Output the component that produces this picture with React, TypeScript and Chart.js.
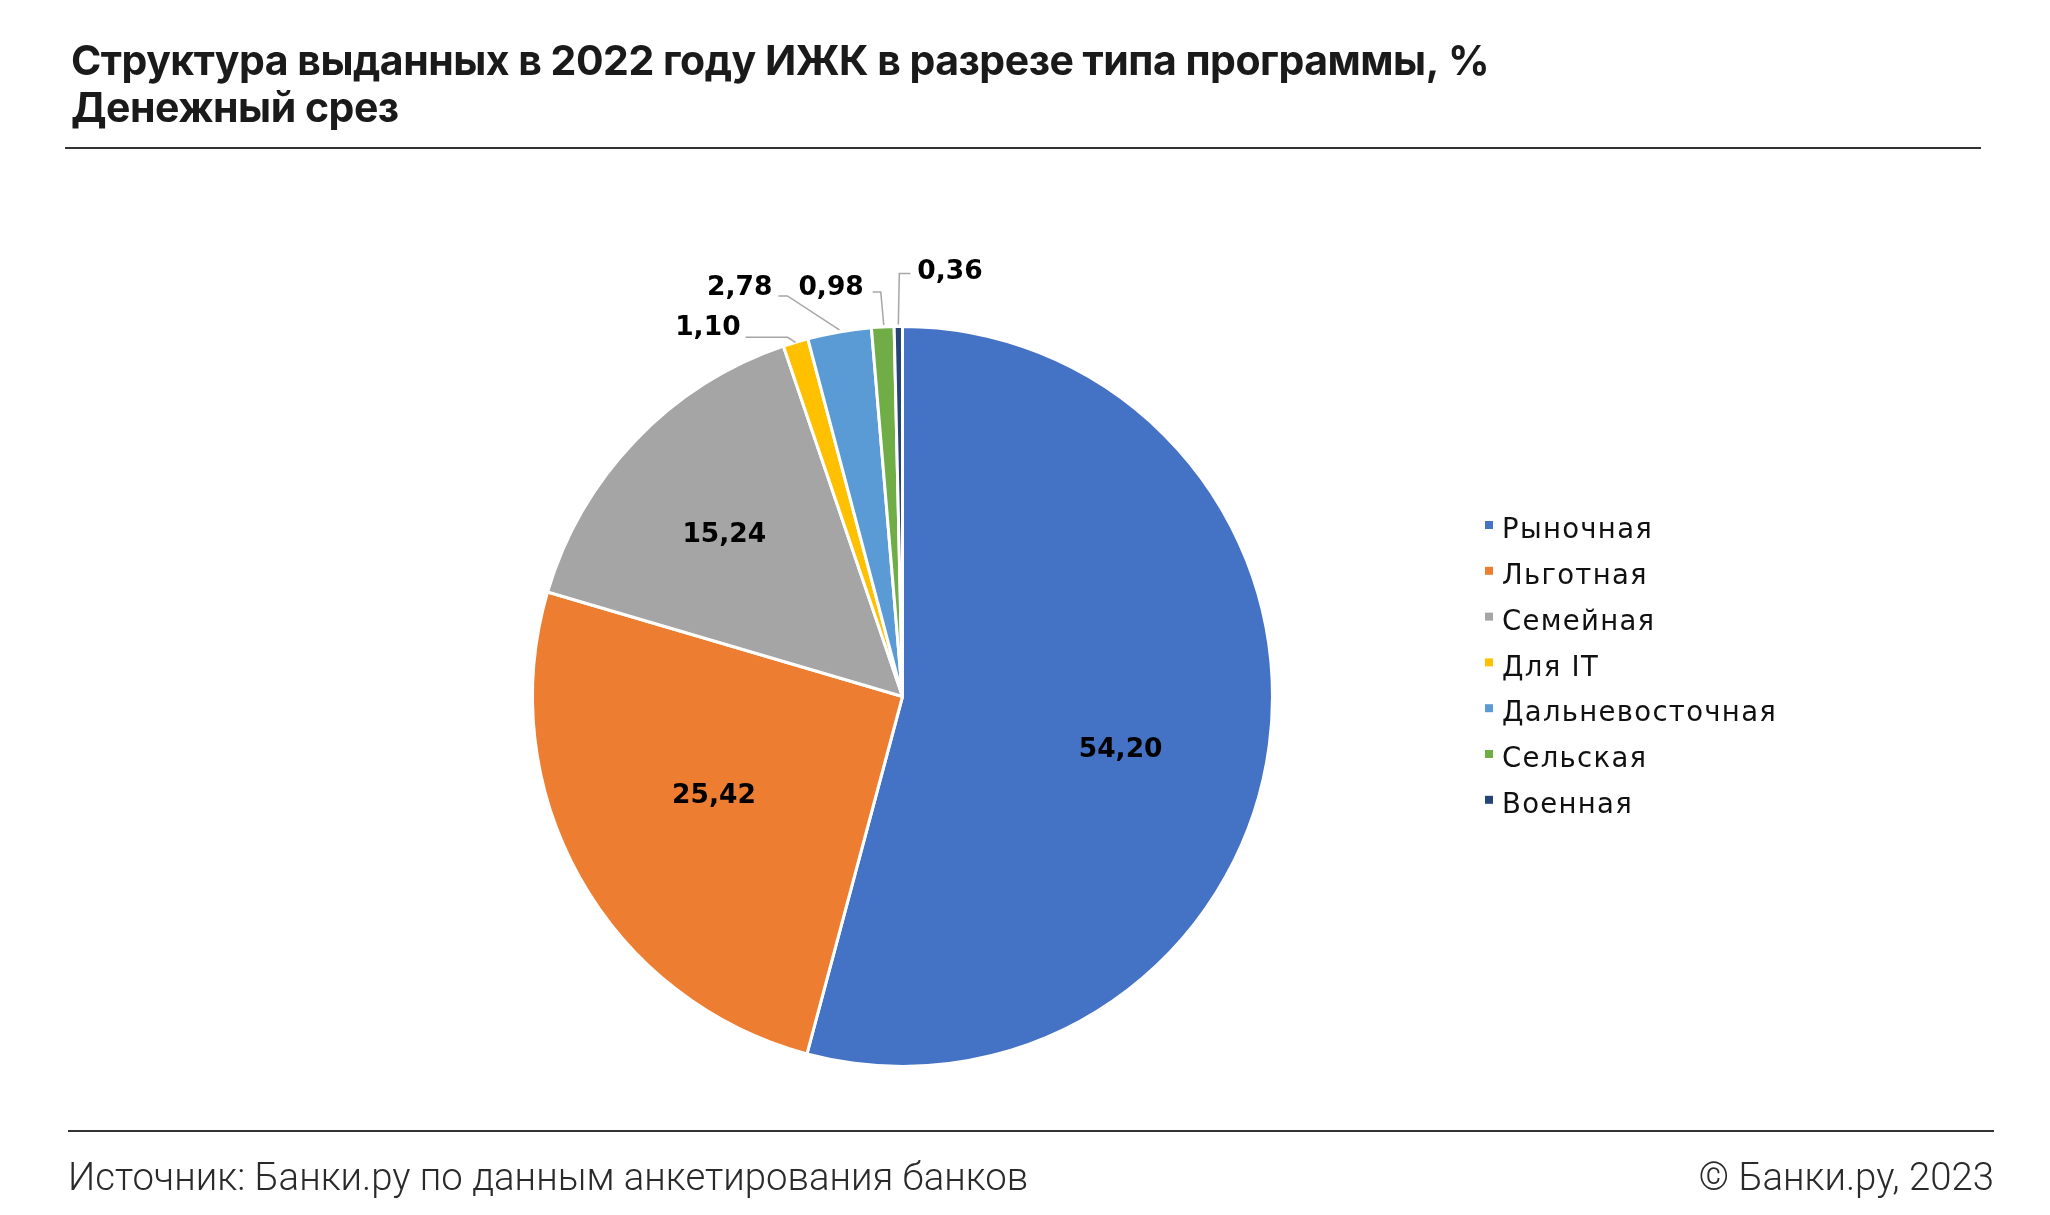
import { useEffect, useRef } from 'react';
import { Chart, registerables } from 'chart.js';

Chart.register(...registerables);

const W = 2050;
const H = 1215;

// ---- data ----
const categories = ['Рыночная', 'Льготная', 'Семейная', 'Для IT', 'Дальневосточная', 'Сельская', 'Военная'];
const shares = [54.2, 25.42, 15.24, 1.1, 2.78, 0.98, 0.36];
const sliceColors = ['#4472C4', '#ED7D31', '#A5A5A5', '#FFC000', '#5B9BD5', '#70AD47', '#264478'];

const titleLines = ['Структура выданных в 2022 году ИЖК в разрезе типа программы, %', 'Денежный срез'];
const sourceText = 'Источник: Банки.ру по данным анкетирования банков';
const copyrightText = '© Банки.ру, 2023';

// ---- label placement styles (relative to slice geometry) ----
type LabelStyle =
  | { kind: 'in'; dx: number; dy: number }
  | { kind: 'out'; align: 'left' | 'right'; tx: number; ty: number; leader: [number, number][] };

const labelStyles: LabelStyle[] = [
  { kind: 'in', dx: -2, dy: 25 },
  { kind: 'in', dx: 5, dy: -9 },
  { kind: 'in', dx: -18, dy: -8 },
  { kind: 'out', align: 'right', tx: -55, ty: -14, leader: [[-50, -5], [-8, -5], [0, 0]] },
  { kind: 'out', align: 'right', tx: -67, ty: -44, leader: [[-61, -36], [-52, -36], [0, -2]] },
  { kind: 'out', align: 'right', tx: -19, ty: -39, leader: [[-10, -35], [-2, -35], [1, -2]] },
  { kind: 'out', align: 'left', tx: 19, ty: -54, leader: [[12, -53], [1, -53], [0, -2]] },
];

const fmt = (v: number) => v.toFixed(2).replace('.', ',');

const decorPlugin = {
  id: 'decor',
  afterDraw(chart: any) {
    const ctx: CanvasRenderingContext2D = chart.ctx;
    ctx.save();
    // title
    ctx.fillStyle = '#1a1a1a';
    ctx.textAlign = 'left';
    ctx.textBaseline = 'alphabetic';
    ctx.font = '700 41px Inter';
    (ctx as any).letterSpacing = '-0.5px';
    ctx.fillText(titleLines[0], 71, 75);
    ctx.fillText(titleLines[1], 71, 122);
    (ctx as any).letterSpacing = '0px';
    // separators
    ctx.strokeStyle = '#333333';
    ctx.lineWidth = 2;
    ctx.beginPath();
    ctx.moveTo(65, 148);
    ctx.lineTo(1981, 148);
    ctx.moveTo(68, 1131);
    ctx.lineTo(1994, 1131);
    ctx.stroke();
    // footer
    ctx.fillStyle = '#2a2a2a';
    ctx.font = '300 38.3px Roboto';
    ctx.textAlign = 'left';
    ctx.fillText(sourceText, 68, 1190);
    ctx.textAlign = 'right';
    ctx.fillText(copyrightText, 1994, 1190);

    // legend
    ctx.textAlign = 'left';
    ctx.textBaseline = 'middle';
    ctx.font = '400 27.5px "DejaVu Sans"';
    (ctx as any).letterSpacing = '1.3px';
    categories.forEach((c, i) => {
      const y = 531 + i * 45.8;
      ctx.fillStyle = sliceColors[i];
      ctx.fillRect(1485, y - 10, 8, 8);
      ctx.fillStyle = '#111111';
      ctx.fillText(c, 1502, y);
    });
    (ctx as any).letterSpacing = '0px';
    ctx.restore();
  },
};

const pieLabelPlugin = {
  id: 'pieLabels',
  afterDatasetsDraw(chart: any) {
    const ctx: CanvasRenderingContext2D = chart.ctx;
    const meta = chart.getDatasetMeta(0);
    ctx.save();
    ctx.font = '700 26.5px "DejaVu Sans"';
    ctx.textBaseline = 'middle';
    meta.data.forEach((arc: any, i: number) => {
      const { x, y, startAngle, endAngle, outerRadius } = arc.getProps(['x', 'y', 'startAngle', 'endAngle', 'outerRadius'], true);
      const mid = (startAngle + endAngle) / 2;
      const st = labelStyles[i];
      const text = fmt(shares[i]);
      if (st.kind === 'in') {
        const r = outerRadius * 0.6;
        ctx.fillStyle = '#000000';
        ctx.textAlign = 'center';
        ctx.fillText(text, x + Math.cos(mid) * r + st.dx, y + Math.sin(mid) * r + st.dy);
      } else {
        const ax = x + Math.cos(mid) * outerRadius;
        const ay = y + Math.sin(mid) * outerRadius;
        ctx.strokeStyle = '#A6A6A6';
        ctx.lineWidth = 1.5;
        ctx.beginPath();
        st.leader.forEach(([dx, dy], k) => {
          if (k === 0) ctx.moveTo(ax + dx, ay + dy);
          else ctx.lineTo(ax + dx, ay + dy);
        });
        ctx.stroke();
        ctx.fillStyle = '#000000';
        ctx.textAlign = st.align;
        ctx.fillText(text, ax + st.tx, ay + st.ty);
      }
    });
    ctx.restore();
  },
};

export default function App() {
  const ref = useRef<HTMLCanvasElement>(null);
  useEffect(() => {
    const chart = new Chart(ref.current as HTMLCanvasElement, {
      type: 'pie',
      data: {
        labels: categories,
        datasets: [
          {
            data: shares,
            backgroundColor: sliceColors,
            borderColor: '#ffffff',
            borderWidth: 3,
          },
        ],
      },
      options: {
        responsive: false,
        animation: false,
        events: [],
        layout: { padding: { left: 531, right: 776, top: 325, bottom: 147 } },
        plugins: {
          legend: { display: false },
          tooltip: { enabled: false },
          title: { display: false },
        },
      },
      plugins: [pieLabelPlugin, decorPlugin],
    });
    return () => chart.destroy();
  }, []);
  return (
    <div style={{ position: 'absolute', left: 0, top: 0, width: W, height: H, background: '#ffffff' }}>
      <canvas ref={ref} width={W} height={H} style={{ display: 'block', width: W, height: H }} />
    </div>
  );
}
